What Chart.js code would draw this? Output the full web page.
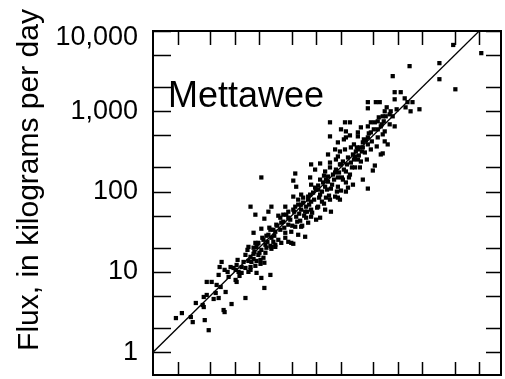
<!DOCTYPE html>
<html><head><meta charset="utf-8">
<script src="https://cdn.jsdelivr.net/npm/chart.js@4"></script>
<style>html,body{margin:0;padding:0;background:#fff;}#wrap{width:505px;height:379px;position:relative;}</style>
</head><body><div id="wrap"><canvas id="c" width="505" height="379"></canvas></div>
<script>
const panelLabel = 'Mettawee';
const yAxisTitle = 'Flux, in kilograms per day';
const xTickValues = [2,5,10,20,50,100,200,500,1000,2000,5000,10000];
const yTickValues = [1,2,5,10,20,50,100,200,500,1000,2000,5000,10000];
const yMajorLabels = {1:'1',10:'10',100:'100',1000:'1,000',10000:'10,000'};
const oneToOneX = [1, 20000];
const oneToOneY = [1, 20000];

const highX = [4800,10600,1400,3250,870,3250,5100,919,1090,1220,431,540,603,919,1320,1520,1250,1440,1850,431,694,798,869,656,714,570,525,469,148,226,260,354,431,621,919,202,232,325,694,656,798,570];
const highY = [6700,5300,3650,3980,2740,2510,1880,1730,1730,1450,1300,1300,1300,1410,1300,1300,1120,1000,1060,1090,1000,917,866,866,866,750,729,729,729,729,729,631,649,649,649,596,562,546,562,516,688,596];

const upperX = [148,185,232,325,431,469,570,694,755,171,196,226,267,325,374,431,396,469,621,656,140,185,299,325,354,
  86.9,112,148,202,267,299,344,525,496,97.2,129,171,232,260,55.5,84.5,112,140,185,213,232,283,374,21.3];
const upperY = [487,410,473,487,473,546,473,422,387,335,316,335,355,335,355,387,307,335,290,299,290,274,274,251,237,
  218,224,230,218,230,200,200,211,183,188,178,173,178,163,168,150,141,133,150,141,130,122,141,150];

const middleX = [52.5,86.9,97.2,129,152,185,202,246,57,106,431,65.6,79.9,112,132,171,196,232,52.5,60.3,69.4,86.9,118,148,185,
  41.9,55.5,65.6,75.5,86.9,106,129,152,73.4,15.7,28.3,18,26,34.4,43.1,48.2,57,63.8,75.5,86.9,100,112];
const middleY = [137,122,112,115,109,115,103,112,115,106,109,91.7,86.6,91.7,84.1,86.6,79.4,100,86.6,79.4,84.1,75,75,79.4,84.1,
  64.9,64.9,68.8,64.9,59.6,64.9,59.6,56.2,56.2,64.9,64.9,51.6,56.2,50.1,51.6,44.7,48.7,43.4,47.3,48.7,44.7,47.3];

const lowerX = [23.2,37.4,45.6,55.5,65.6,79.9,17.1,21.3,27.5,31.6,36.4,41.9,49.6,60.3,73.4,24.6,28.3,34.4,41.9,49.6,18,14.8,18.6,23.9,28.3,
  21.3,24.6,27.5,29.9,37.4,45.6,52.5,31.6,13.6,15.7,17.1,19.6,22.6,23.9,28.3,31.6,10.9,14.8,17.1,18.6,20.8,23.2];
const lowerY = [46,41,38.7,36.5,36.5,41,30.7,34.5,33.5,31.6,33.5,30.7,31.6,29,27.4,28.2,26.6,25.1,26.6,23,23,20.5,20.5,21.8,20.5,
  18.8,20,21.1,23.7,23,23.7,22.4,21.8,16.3,15.4,16.8,16.3,15,17.3,19.4,20.5,14.1,13.7,14.5,13.7,14.1,13];

const lowX = [8.94,10.6,12.2,13.6,15.7,18,20.8,6.56,6.94,8.22,10.3,11.2,12.2,14.8,15.7,18.6,6.38,10.3,10.6,21.3,27.5,
  4.56,5.24,6.75,4.56,5.87,7.77,4.19,6.38,5.54,23.2,13.6,3.35,4.07,4.19,9.19,7.34,7.55,1.91,2.26,2.91,3.07,4.31,4.82];
const lowY = [11.5,12.2,11.5,11.2,11.5,11.9,12.6,11.5,13.3,10,10.6,10,9.72,10,10.6,9.72,9.17,7.94,7.5,8.41,9.17,
  7.5,7.5,6.49,5.16,5.46,5.62,4.87,4.73,4.6,6.31,4.73,4.1,3.87,3.65,3.98,3.35,3.16,2.66,3.07,2.74,2.37,2.51,1.88];

const coreX = [60.3,65.6,69.4,79.9,84.5,91.9,100,106,122,132,140,161,175,196,213,246,283,307,344,374,407,39.6,45.6,52.5,39.6,32.5,29.9,26,22.6,19.6,17.1];
const coreY = [68.8,59.6,72.9,79.4,91.7,97.2,106,119,130,141,154,163,188,218,237,266,290,316,355,410,434,51.6,56.2,59.6,42.2,38.7,33.5,29,25.1,23,20];

const denseX = [36.4,40.7,45.6,51.0,53.9,58.7,62.1,67.5,71.4,77.6,82.2,89.4,94.6,103,109,118,125,136,144,157,166,180,191,207,219,239,253,275,291,316,334,364,385,419,443,482,510,554,587,638,675,734,822,972,219,260,291,175,148,125];
const denseY = [47.3,35.5,47.3,37.6,56.2,42.2,53.1,37.6,50.1,56.2,68.8,54.6,79.4,63.1,84.1,100,70.8,106,89.1,122,141,100,173,150,188,218,150,200,251,355,282,316,447,251,531,422,596,365,841,688,750,1122,1000,1059,447,501,387,251,200,158];

const extraLowX = [12.9,14.4,16.1,17.5,19.1,20.2,21.9,25.3,26.7,30.7,33.4,9.72,8.45,7.55,11.5,6.03];
const extraLowY = [13.3,18.8,13.3,17.8,22.4,17.3,26.6,23.7,35.5,28.2,37.6,11.2,8.66,10.6,8.91,6.88];

const xs = [].concat(highX, upperX, middleX, lowerX, lowX, coreX, denseX, extraLowX);
const ys = [].concat(highY, upperY, middleY, lowerY, lowY, coreY, denseY, extraLowY);
const points = xs.map((x, i) => ({x: x, y: ys[i]}));
const linePts = oneToOneX.map((x, i) => ({x: x, y: oneToOneY[i]}));

const FONT = '"Liberation Sans", Arial, Helvetica, sans-serif';
Chart.defaults.font.family = FONT;
Chart.defaults.color = '#000';

const decor = {
  id: 'decor',
  afterDraw(chart) {
    const ctx = chart.ctx, a = chart.chartArea;
    const xs_ = chart.scales.x, ys_ = chart.scales.y;
    ctx.save();
    ctx.strokeStyle = '#000';
    ctx.lineWidth = 1.5;
    ctx.beginPath();
    yTickValues.forEach(v => {
      const p = Math.round(ys_.getPixelForValue(v)) + 0.5;
      ctx.moveTo(a.left, p); ctx.lineTo(a.left + 18, p);
      ctx.moveTo(a.right - 15, p); ctx.lineTo(a.right, p);
    });
    xTickValues.forEach(v => {
      const p = Math.round(xs_.getPixelForValue(v)) + 0.5;
      ctx.moveTo(p, a.bottom); ctx.lineTo(p, a.bottom - 13);
      ctx.moveTo(p, a.top); ctx.lineTo(p, a.top + 14);
    });
    ctx.stroke();
    ctx.lineWidth = 2;
    ctx.strokeRect(a.left, a.top, a.right - a.left, a.bottom - a.top);
    ctx.fillStyle = '#000';
    ctx.font = '36px ' + FONT;
    ctx.textAlign = 'left';
    ctx.textBaseline = 'alphabetic';
    ctx.fillText(panelLabel, 168, 107);
    ctx.translate(38, 180);
    ctx.rotate(-Math.PI / 2);
    ctx.font = '30px ' + FONT;
    ctx.textAlign = 'center';
    ctx.fillText(yAxisTitle, 0, 0);
    ctx.restore();
  }
};

new Chart(document.getElementById('c'), {
  type: 'scatter',
  data: {
    datasets: [
      {data: points, pointStyle: 'rect', pointRadius: 3.0, pointBorderWidth: 0, backgroundColor: '#000', borderColor: '#000'},
      {data: linePts, showLine: true, pointRadius: 0, borderColor: '#000', borderWidth: 1.3, fill: false}
    ]
  },
  options: {
    responsive: false,
    devicePixelRatio: 1,
    animation: false,
    events: [],
    layout: {padding: {top: 31, right: 2, bottom: 4, left: 0}},
    plugins: {legend: {display: false}, tooltip: {enabled: false}, title: {display: false}},
    scales: {
      x: {
        type: 'logarithmic', min: 1, max: 18500, display: false,
        afterBuildTicks: s => { s.ticks = xTickValues.map(v => ({value: v})); }
      },
      y: {
        type: 'logarithmic', min: 0.52, max: 10000,
        grid: {display: false, drawTicks: false},
        border: {display: false},
        ticks: {
          autoSkip: false, padding: 15, color: '#000',
          font: {size: 27, lineHeight: 0.5},
          callback: v => (v === 10000 ? ['', yMajorLabels[v]] : (yMajorLabels[v] || ''))
        },
        afterBuildTicks: s => { s.ticks = yTickValues.map(v => ({value: v})); },
        afterFit: s => { s.width = 153; s.paddingTop = 0; s.paddingBottom = 0; }
      }
    }
  },
  plugins: [decor]
});
</script></body></html>
